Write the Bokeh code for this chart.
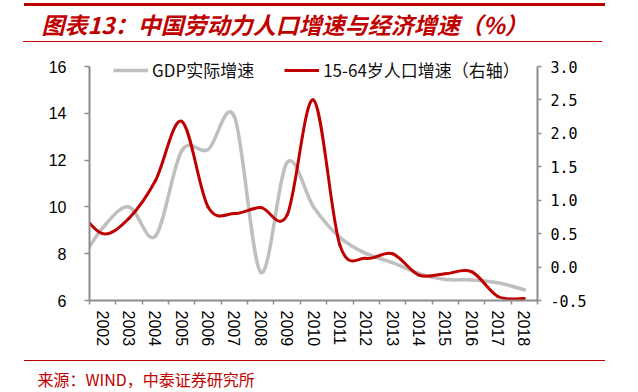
from bokeh.plotting import figure
from bokeh.layouts import column, row
from bokeh.models import (Range1d, LinearAxis, FixedTicker, Legend, LegendItem,
                          NumeralTickFormatter, ColumnDataSource, Spacer)
from bokeh.embed import file_html
from bokeh.resources import INLINE

# ---------------- data ----------------
# 2001 is only the lead-in value where the curves enter at the left edge
years = [2001, 2002, 2003, 2004, 2005, 2006, 2007, 2008, 2009, 2010,
         2011, 2012, 2013, 2014, 2015, 2016, 2017, 2018]
gdp_growth = [7.4, 9.1, 10.0, 8.75, 12.4, 12.45, 13.85, 7.2, 11.9, 10.0,
              8.7, 8.0, 7.62, 7.15, 6.9, 6.88, 6.76, 6.46]
labor_growth = [0.9, 0.5, 0.73, 1.29, 2.18, 0.9, 0.8, 0.89, 0.78, 2.5,
                0.33, 0.13, 0.2, -0.12, -0.1, -0.07, -0.44, -0.47]
tick_years = years[1:]
left_ticks = [6, 8, 10, 12, 14, 16]
right_ticks = [-0.5, 0, 0.5, 1.0, 1.5, 2.0, 2.5, 3.0]

title_text = "图表13：中国劳动力人口增速与经济增速（%）"
source_text = "来源：WIND，中泰证券研究所"
gdp_label = "GDP实际增速"
labor_label = "15-64岁人口增速（右轴）"

RED = "#C00000"
GRAY = "#BFBFBF"
AXIS = "#8C8C8C"
W = 638
BL, BR = 89, 101          # left / right border of every panel (frames line up)
FRAME_H = 242             # frame height; the axes themselves span 234 px
HEAD = 8                  # px of frame above the top tick (room for the legend)


def smooth_segments(xs, ys):
    """Catmull-Rom spline expressed as cubic Bezier segments."""
    n = len(xs)
    d = dict(x0=[], y0=[], x1=[], y1=[], cx0=[], cy0=[], cx1=[], cy1=[])
    for i in range(n - 1):
        a = i - 1 if i > 0 else i
        b = i + 2 if i + 2 < n else i + 1
        d["x0"].append(xs[i]); d["y0"].append(ys[i])
        d["x1"].append(xs[i + 1]); d["y1"].append(ys[i + 1])
        d["cx0"].append(xs[i] + (xs[i + 1] - xs[a]) / 6.0)
        d["cy0"].append(ys[i] + (ys[i + 1] - ys[a]) / 6.0)
        d["cx1"].append(xs[i + 1] - (xs[b] - xs[i]) / 6.0)
        d["cy1"].append(ys[i + 1] - (ys[b] - ys[i]) / 6.0)
    return ColumnDataSource(d)


def rule(left, length, thickness):
    """A thin solid red strip."""
    return row(Spacer(width=left, height=thickness),
               Spacer(width=length, height=thickness, styles={"background-color": RED}),
               spacing=0)


def text_panel(h, text, size, style, offset):
    f = figure(width=W, height=h, output_backend="svg", toolbar_location=None,
               x_axis_location=None, y_axis_location=None,
               min_border_left=BL, min_border_right=BR, min_border_top=0, min_border_bottom=0)
    f.outline_line_color = None
    f.xgrid.visible = False
    f.ygrid.visible = False
    f.title.text = text
    f.title.align = "left"
    f.title.offset = offset
    f.title.standoff = 0
    f.title.vertical_align = "middle"
    f.title.text_font = "Noto Sans CJK SC"
    f.title.text_font_style = style
    f.title.text_font_size = size
    f.title.text_color = RED
    return f


def padded(lo, hi):
    span = hi - lo
    return Range1d(lo, hi + span * HEAD / (FRAME_H - HEAD))


# ---------------- main chart ----------------
p = figure(width=W, height=312, output_backend="svg", toolbar_location=None,
           x_range=Range1d(tick_years[0] - 0.5, tick_years[-1] + 0.5),
           y_range=padded(left_ticks[0], left_ticks[-1]),
           min_border_left=BL, min_border_right=BR,
           min_border_top=312 - 54 - FRAME_H, min_border_bottom=54)
p.extra_y_ranges = {"pop": padded(right_ticks[0], right_ticks[-1])}
p.outline_line_color = None
p.xgrid.visible = False
p.ygrid.visible = False

p.bezier(x0="x0", y0="y0", x1="x1", y1="y1", cx0="cx0", cy0="cy0", cx1="cx1", cy1="cy1",
         source=smooth_segments(years, gdp_growth), line_color=GRAY, line_width=3.5,
         line_cap="round")
p.bezier(x0="x0", y0="y0", x1="x1", y1="y1", cx0="cx0", cy0="cy0", cx1="cx1", cy1="cy1",
         source=smooth_segments(years, labor_growth), line_color=RED, line_width=3,
         line_cap="round", y_range_name="pop")

# legend proxies: the lead-in point lies outside the visible x range
lg = p.line(x=years[:1], y=gdp_growth[:1], line_color=GRAY, line_width=3.5)
lr = p.line(x=years[:1], y=labor_growth[:1], line_color=RED, line_width=3, y_range_name="pop")
legend = Legend(items=[LegendItem(label=gdp_label, renderers=[lg]),
                       LegendItem(label=labor_label, renderers=[lr])],
                orientation="horizontal", location=(24, 218),
                label_text_font="Noto Sans CJK SC", label_text_font_size="17px",
                label_text_color="#111111", glyph_width=35, glyph_height=20,
                label_height=20, label_standoff=4, spacing=30, padding=0, margin=0,
                border_line_color=None, background_fill_alpha=0)
p.add_layout(legend, "center")

xa = p.xaxis[0]
xa.ticker = FixedTicker(ticks=tick_years,
                        minor_ticks=[y - 0.5 for y in tick_years] + [tick_years[-1] + 0.5])
xa.major_label_orientation = "vertical"
xa.major_tick_line_color = None
xa.major_tick_out = 0
xa.major_tick_in = 0
xa.minor_tick_line_color = AXIS
xa.minor_tick_line_width = 1.5
xa.minor_tick_out = 4
xa.minor_tick_in = 0
xa.major_label_standoff = 6
xa.axis_line_color = AXIS
xa.axis_line_width = 2
xa.major_label_text_font = "Liberation Sans"
xa.major_label_text_font_size = "16px"
xa.major_label_text_color = "black"

ya = p.yaxis[0]
ya.ticker = FixedTicker(ticks=left_ticks)
ya.bounds = (left_ticks[0], left_ticks[-1])
ya.minor_tick_line_color = None
ya.major_tick_out = 5
ya.major_tick_in = 0
ya.major_tick_line_color = AXIS
ya.major_tick_line_width = 1.5
ya.axis_line_color = AXIS
ya.axis_line_width = 2
ya.major_label_standoff = 18
ya.major_label_text_font = "Liberation Sans"
ya.major_label_text_font_size = "16px"
ya.major_label_text_color = "black"

ra = LinearAxis(y_range_name="pop", ticker=FixedTicker(ticks=right_ticks),
                formatter=NumeralTickFormatter(format="0.0"),
                bounds=(right_ticks[0], right_ticks[-1]))
ra.minor_tick_line_color = None
ra.major_tick_out = 4
ra.major_tick_in = 0
ra.major_tick_line_color = AXIS
ra.major_tick_line_width = 1.5
ra.axis_line_color = AXIS
ra.axis_line_width = 2
ra.major_label_standoff = 9
ra.major_label_text_font = "DejaVu Sans Mono"
ra.major_label_text_font_size = "15px"
ra.major_label_text_color = "black"
p.add_layout(ra, "right")

# ---------------- page assembly (top to bottom) ----------------
layout = column(
    Spacer(width=W, height=3),
    rule(24, 581, 3),                                            # y 3..6
    text_panel(35, title_text, "23px", "bold italic", 41 - BL),   # y 6..41
    rule(23, 579, 1),                                            # y 41..42
    p,                                                           # y 42..354
    Spacer(width=W, height=6),
    rule(24, 581, 1),                                            # y 360..361
    Spacer(width=W, height=4),
    text_panel(27, source_text, "16px", "normal", 37 - BL),       # y 365..392
    spacing=0,
)
open("out.html", "w").write(file_html(layout, INLINE))
